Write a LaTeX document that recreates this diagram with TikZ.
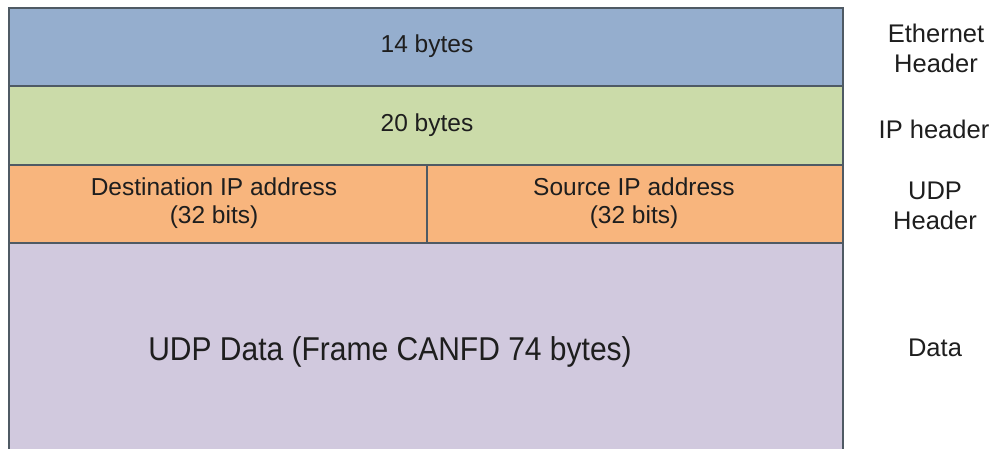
\documentclass[tikz,border=0pt]{standalone}
\usepackage{fontspec}
\setmainfont{Liberation Sans}
\definecolor{ethblue}{HTML}{95AECE}
\definecolor{ipgreen}{HTML}{CBDBA9}
\definecolor{udporange}{HTML}{F8B57D}
\definecolor{datalilac}{HTML}{D1C9DE}
\definecolor{edgegrey}{HTML}{4F5A64}
\definecolor{txt}{HTML}{1E1E1E}
\begin{document}
\begin{tikzpicture}[x=1pt,y=-1pt,
  band/.style={draw=edgegrey,line width=1.6pt},
  intxt/.style={text=txt,font=\fontsize{24.5}{28}\selectfont,align=center,inner sep=0pt},
  bigtxt/.style={text=txt,font=\fontsize{30}{36}\selectfont,yscale=1.1,inner sep=0pt},
  sidetxt/.style={text=txt,font=\fontsize{25.5}{30}\selectfont,align=center,inner sep=0pt}]
\useasboundingbox (0,0) rectangle (995,448);
\begin{scope}
\clip (0,0) rectangle (995,448);
% layer bands
\filldraw[band,fill=datalilac] (9,243) rectangle (843,460);
\filldraw[band,fill=udporange] (9,165) rectangle (843,243);
\filldraw[band,fill=ipgreen] (9,86) rectangle (843,165);
\filldraw[band,fill=ethblue] (9,8) rectangle (843,86);
\draw[band] (427,165) -- (427,243);
\end{scope}
% texts inside the bands
\node[intxt] (eth) at (427,46) {14 bytes};
\node[intxt] (ip) at (427,125) {20 bytes};
\node[intxt] (dst) at (214,203) {Destination IP address\\(32 bits)};
\node[intxt] (src) at (634,203) {Source IP address\\(32 bits)};
\node[bigtxt] (data) at (390,352) {UDP Data (Frame CANFD 74 bytes)};
% layer names on the right
\node[sidetxt] (lethe) at (936,48) {Ethernet\\Header};
\node[sidetxt] (lip) at (934,129) {IP header};
\node[sidetxt] (ludp) at (935,206) {UDP\\Header};
\node[sidetxt] (ldata) at (935,348) {Data};
\end{tikzpicture}
\end{document}
